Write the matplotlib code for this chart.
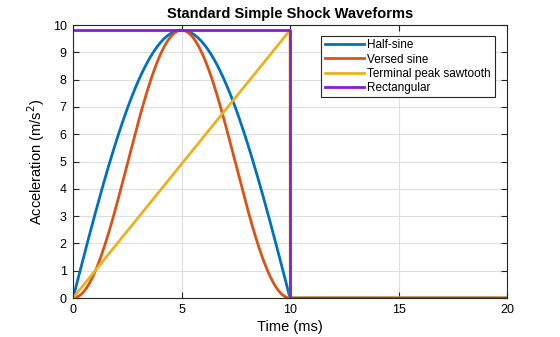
import numpy as np
import matplotlib.pyplot as plt

plt.rcParams['font.family'] = ['Liberation Sans', 'DejaVu Sans']

# pulse parameters
peak = 9.81        # m/s^2
duration = 10.0    # ms
t_end = 20.0       # ms

t = np.linspace(0, t_end, 2001)
inside = t <= duration

half_sine = np.where(inside, peak * np.sin(np.pi * t / duration), 0.0)
versed_sine = np.where(inside, peak * 0.5 * (1 - np.cos(2 * np.pi * t / duration)), 0.0)
sawtooth = np.where(inside, peak * t / duration, 0.0)
rect_t = [0, duration, duration, t_end]
rect_a = [peak, peak, 0, 0]

fig = plt.figure(figsize=(5.6, 3.37), dpi=100)
ax = fig.add_axes([0.1304, 0.1157, 0.775, 0.810])

ax.plot(t, half_sine, color='#0072BD', lw=2, label='Half-sine')
ax.plot(t, versed_sine, color='#D95319', lw=2, label='Versed sine')
ax.plot(t, sawtooth, color='#EDB120', lw=2, label='Terminal peak sawtooth')
ax.plot(rect_t, rect_a, color='#8A1CD6', lw=2, label='Rectangular')

ax.set_xlim(0, 20)
ax.set_ylim(0, 10)
ax.set_xticks([0, 5, 10, 15, 20])
ax.set_yticks(range(0, 11))
ax.grid(True, color='#dfdfdf', lw=0.8)
ax.set_axisbelow(True)
ax.tick_params(direction='in', top=True, right=True, labelsize=9, length=4,
               pad=4.5, color='#262626')
for s in ax.spines.values():
    s.set_color('#262626')
    s.set_linewidth(0.8)

ax.set_xlabel('Time (ms)', fontsize=10.5, labelpad=3)
ax.set_ylabel('Acceleration (m/s$^2$)', fontsize=10.5)
ax.set_title('Standard Simple Shock Waveforms', fontsize=10.5, fontweight='bold', pad=5)

leg = ax.legend(loc='upper right', fontsize=8.5, fancybox=False, framealpha=1,
                edgecolor='#262626', borderpad=0.3, labelspacing=0.18,
                handlelength=3.3, handletextpad=0.3, borderaxespad=0,
                bbox_to_anchor=(0.9715, 0.96))
leg.get_frame().set_linewidth(0.8)

fig.savefig('out.png', dpi=100)
